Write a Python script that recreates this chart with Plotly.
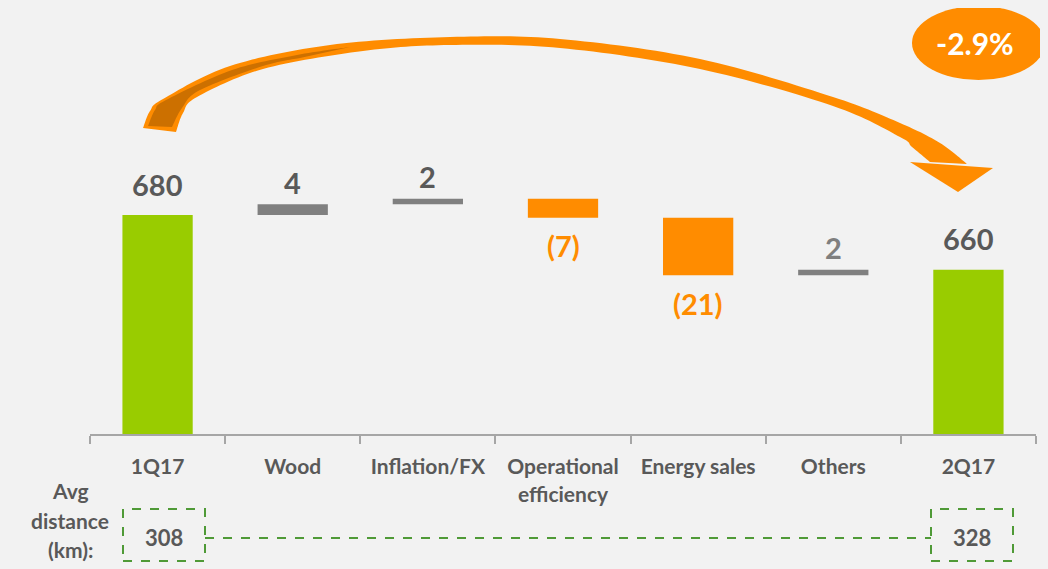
import plotly.graph_objects as go

# ---- data ----
categories = ["1Q17", "Wood", "Inflation/FX", "Operational<br>efficiency", "Energy sales", "Others", "2Q17"]
values = [680, 4, 2, -7, -21, 2, 660]
kinds = ["total", "delta", "delta", "delta", "delta", "delta", "total"]
value_labels = ["680", "4", "2", "(7)", "(21)", "2", "660"]
avg_distance = ["308", "328"]
avg_distance_cats = ["1Q17", "2Q17"]
change_label = "-2.9%"

# ---- colours ----
GREEN = "#99CC00"
GREY = "#808080"
ORANGE = "#FF8C00"
DARK_ORANGE = "#CC7000"
TEXT = "#595959"
BG = "#F2F2F2"
BOX_GREEN = "#4F9A37"
FONT = "Lato"

# ---- layout geometry (pixels) ----
OFF = 8  # page body margin
FIG_W, FIG_H = 1048 - OFF, 569 - OFF
L, R, T, B = 90 - OFF, 12, 0, 135
PW = FIG_W - L - R
PH = FIG_H - T - B
YMIN = 600
PX_PER_UNIT = 2.736
YMAX = YMIN + PH / PX_PER_UNIT


def px(x):
    return (x - OFF - L) / PW


def py(y):
    return (T + PH - (y - OFF)) / PH


# waterfall geometry from the data
bases, heights, colors, tops, bottoms = [], [], [], [], []
running = 0
for v, k in zip(values, kinds):
    if k == "total":
        bases.append(0)
        heights.append(v)
        colors.append(GREEN)
        running = v
        tops.append(v)
        bottoms.append(0)
    else:
        bases.append(running)
        heights.append(v)
        colors.append(GREY if v >= 0 else ORANGE)
        tops.append(max(running, running + v))
        bottoms.append(min(running, running + v))
        running += v

fig = go.Figure()
fig.add_trace(go.Bar(
    x=categories, y=heights, base=bases,
    marker=dict(color=colors, line=dict(width=0)),
    width=0.52, hoverinfo="skip", showlegend=False,
))

annotations = []
for i, (v, k, lab) in enumerate(zip(values, kinds, value_labels)):
    if k == "total":
        col, y, shift = TEXT, tops[i], 31
    elif v >= 0:
        col = TEXT if i < 3 else "#7F7F7F"
        y, shift = tops[i], 22
    else:
        col, y, shift = ORANGE, bottoms[i], -28
    annotations.append(dict(
        x=categories[i], y=y, xref="x", yref="y", text=f"<b>{lab}</b>",
        showarrow=False, yanchor="middle", yshift=shift,
        font=dict(family=FONT, size=29, color=col),
    ))

# Avg distance label
for txt, yy in [("Avg", 490), ("distance", 520), ("(km):", 549)]:
    annotations.append(dict(
        x=px(70), y=py(yy), xref="paper", yref="paper", text=f"<b>{txt}</b>",
        showarrow=False, xanchor="center", yanchor="middle",
        font=dict(family=FONT, size=21, color=TEXT),
    ))

shapes = []
box_px = {"1Q17": (123, 205), "2Q17": (931, 1013)}
for cat, val in zip(avg_distance_cats, avg_distance):
    x0, x1 = box_px[cat]
    shapes.append(dict(type="rect", xref="paper", yref="paper",
                       x0=px(x0), x1=px(x1), y0=py(561), y1=py(509),
                       line=dict(color=BOX_GREEN, width=2, dash="dash"),
                       fillcolor="rgba(0,0,0,0)"))
    annotations.append(dict(
        x=px((x0 + x1) / 2), y=py(537), xref="paper", yref="paper", text=f"<b>{val}</b>",
        showarrow=False, xanchor="center", yanchor="middle",
        font=dict(family=FONT, size=22, color=TEXT),
    ))
shapes.append(dict(type="line", xref="paper", yref="paper",
                   x0=px(205), x1=px(931), y0=py(538), y1=py(538),
                   line=dict(color=BOX_GREEN, width=2, dash="dash")))


# ---- curved arrow decoration ----
def catmull(pts, n=16):
    out = []
    for i in range(len(pts) - 1):
        p0 = pts[i - 1] if i > 0 else pts[i]
        p1, p2 = pts[i], pts[i + 1]
        p3 = pts[i + 2] if i + 2 < len(pts) else pts[i + 1]
        for j in range(n):
            t = j / n
            t2, t3 = t * t, t * t * t
            xx = 0.5 * ((2 * p1[0]) + (-p0[0] + p2[0]) * t + (2 * p0[0] - 5 * p1[0] + 4 * p2[0] - p3[0]) * t2 + (-p0[0] + 3 * p1[0] - 3 * p2[0] + p3[0]) * t3)
            yy = 0.5 * ((2 * p1[1]) + (-p0[1] + p2[1]) * t + (2 * p0[1] - 5 * p1[1] + 4 * p2[1] - p3[1]) * t2 + (-p0[1] + 3 * p1[1] - 3 * p2[1] + p3[1]) * t3)
            out.append((xx, yy))
    out.append(pts[-1])
    return out


def path_from(pts):
    s = "M " + " L ".join(f"{px(a):.5f},{py(b):.5f}" for a, b in pts)
    return s + " Z"


outer = [(143, 128), (150, 111), (163, 99), (230, 66), (330, 45), (450, 37), (560, 39),
         (700, 59), (833, 97), (900, 123), (940, 143), (967, 164)]
inner = [(930, 162), (912, 147), (900, 137), (833, 106), (700, 69), (560, 48), (450, 45),
         (363, 51), (263, 69), (197, 97), (183, 113), (176, 132)]
arrow_pts = catmull(outer) + catmull(inner)
shapes.append(dict(type="path", xref="paper", yref="paper", path=path_from(arrow_pts),
                   fillcolor=ORANGE, line=dict(width=0), layer="above"))
head = [(910, 162), (993, 168), (958, 192)]
shapes.append(dict(type="path", xref="paper", yref="paper", path=path_from(head),
                   fillcolor=ORANGE, line=dict(width=0), layer="above"))
dark_outer = [(148, 126), (155, 110), (166, 100), (232, 70), (297, 55), (350, 47)]
dark_inner = [(300, 58), (263, 66), (200, 90), (182, 108), (172, 127)]
shapes.append(dict(type="path", xref="paper", yref="paper",
                   path=path_from(catmull(dark_outer) + catmull(dark_inner)),
                   fillcolor=DARK_ORANGE, line=dict(width=0), layer="above"))

# -2.9% ellipse
shapes.append(dict(type="circle", xref="paper", yref="paper",
                   x0=px(912), x1=px(1045), y0=py(80), y1=py(6),
                   fillcolor=ORANGE, line=dict(width=0), layer="above"))
annotations.append(dict(
    x=px(975), y=py(43), xref="paper", yref="paper", text=f"<b>{change_label}</b>",
    showarrow=False, xanchor="center", yanchor="middle",
    font=dict(family=FONT, size=30, color="white"),
))

fig.update_layout(
    width=FIG_W, height=FIG_H,
    margin=dict(l=L, r=R, t=T, b=B, pad=0),
    paper_bgcolor=BG, plot_bgcolor=BG,
    bargap=0.48,
    shapes=shapes, annotations=annotations,
    xaxis=dict(
        type="category", range=[-0.5, len(categories) - 0.5],
        showline=True, linecolor="#A6A6A6", linewidth=2,
        ticks="outside", tickson="boundaries", ticklen=8, tickcolor="#A6A6A6", tickwidth=1.5,
        tickfont=dict(family=FONT, size=21, color=TEXT, weight="bold"),
        showgrid=False, zeroline=False, fixedrange=True,
        ticklabelstandoff=13,
    ),
    yaxis=dict(range=[YMIN, YMAX], visible=False, showgrid=False, zeroline=False, fixedrange=True),
    hovermode=False,
)

fig.write_html("out.html", config={"displayModeBar": False},
               post_script="document.body.style.background='#F2F2F2';")
